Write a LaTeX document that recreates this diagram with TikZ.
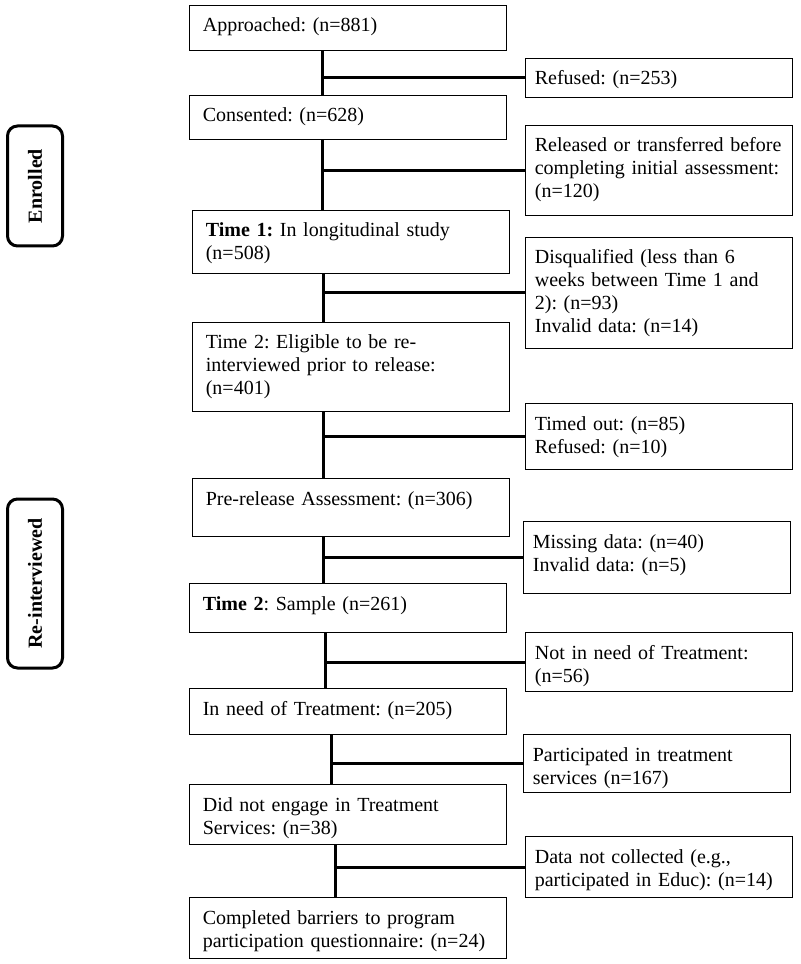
\documentclass[tikz,border=0pt]{standalone}
\usepackage{fontspec}
\setmainfont{Liberation Serif}
\usetikzlibrary{positioning}
\frenchspacing
\hyphenpenalty=10000

\begin{document}
\begin{tikzpicture}[
    x=0.6pt, y=-0.6pt,
    font=\fontsize{12}{13.8}\selectfont,
    % boxes of the main flow, boxes of the exclusions, phase labels
    stage/.style={rectangle, draw, line width=0.6pt, anchor=north west, align=left, text width=174pt, inner xsep=8pt, inner ysep=7.5pt, text height=8.4pt},
    exclusion/.style={stage, text width=149pt, inner xsep=5.6pt},
    phase/.style={rectangle, draw, line width=1.8pt, rounded corners=6pt, rotate=90, minimum height=33pt, font=\fontsize{12}{13.8}\selectfont\bfseries},
    link/.style={line width=1.8pt}
]
\useasboundingbox (0,0) rectangle (800,964);

% Phase labels (left)
\node [phase, minimum width=72pt] (enrolled) at (35,186) {Enrolled};
\node [phase, minimum width=101.4pt] (reinterviewed) at (35,583.5) {Re-interviewed};

% Main flow (middle column)
\node [stage, text depth=3.6pt] (approached) at (189,5) {Approached: (n=881)};
\node [stage, text depth=3pt] (consented) at (189,95) {Consented: (n=628)};
\node [stage, text depth=14.4pt] (time1) at (192,210) {\textbf{Time 1:} In longitudinal study\\(n=508)};
\node [stage, text depth=30pt] (eligible) at (192,322) {Time 2: Eligible to be re-\\interviewed prior to release:\\(n=401)};
\node [stage, text depth=11.4pt] (prerelease) at (192,478) {Pre-release Assessment: (n=306)};
\node [stage, text depth=6pt] (sample) at (189,583) {\textbf{Time 2}: Sample (n=261)};
\node [stage, text depth=4.2pt] (needed) at (189,688) {In need of Treatment: (n=205)};
\node [stage, text depth=12.6pt] (notengaged) at (189,784) {Did not engage in Treatment\\Services: (n=38)};
\node [stage, text depth=13.2pt] (completed) at (189,897) {Completed barriers to program\\participation questionnaire: (n=24)};

% Exclusions (right column)
\node [exclusion, text depth=0pt] (refused) at (525,58) {Refused: (n=253)};
\node [exclusion, text depth=30.6pt] (released) at (525,125) {Released or transferred before\\completing initial assessment:\\(n=120)};
\node [exclusion, text depth=43.2pt] (disqualified) at (525,237) {Disqualified (less than 6\\weeks between Time 1 and\\2): (n=93)\\Invalid data: (n=14)};
\node [exclusion, text depth=16.2pt] (timedout) at (525,403) {Timed out: (n=85)\\Refused: (n=10)};
\node [exclusion, text depth=19.8pt] (missing) at (523,521) {Missing data: (n=40)\\Invalid data: (n=5)};
\node [exclusion, text depth=12pt] (notneeded) at (525,632) {Not in need of Treatment:\\(n=56)};
\node [exclusion, text depth=11.4pt] (participated) at (523,734) {Participated in treatment\\services (n=167)};
\node [exclusion, text depth=13.2pt] (notcollected) at (525,836) {Data not collected (e.g.,\\participated in Educ): (n=14)};

% Spine positions
\coordinate (spineA) at (322,0);
\coordinate (spineB) at (323,0);
\coordinate (spineC) at (325,0);
\coordinate (spineD) at (331,0);
\coordinate (spineE) at (335,0);

% Main flow connections
\draw [link] (approached.south -| spineA) -- (consented.north -| spineA);
\draw [link] (consented.south -| spineA) -- (time1.north -| spineA);
\draw [link] (time1.south -| spineB) -- (eligible.north -| spineB);
\draw [link] (eligible.south -| spineB) -- (prerelease.north -| spineB);
\draw [link] (prerelease.south -| spineB) -- (sample.north -| spineB);
\draw [link] (sample.south -| spineC) -- (needed.north -| spineC);
\draw [link] (needed.south -| spineD) -- (notengaged.north -| spineD);
\draw [link] (notengaged.south -| spineE) -- (completed.north -| spineE);

% Exclusion branches
\draw [link] (refused.west -| spineA) -- (refused.west);
\draw [link] (released.west -| spineA) -- (released.west);
\draw [link] (disqualified.west -| spineB) -- (disqualified.west);
\draw [link] (timedout.west -| spineB) -- (timedout.west);
\draw [link] (missing.west -| spineB) -- (missing.west);
\draw [link] (notneeded.west -| spineC) -- (notneeded.west);
\draw [link] (participated.west -| spineD) -- (participated.west);
\draw [link] (notcollected.west -| spineE) -- (notcollected.west);

\end{tikzpicture}
\end{document}
